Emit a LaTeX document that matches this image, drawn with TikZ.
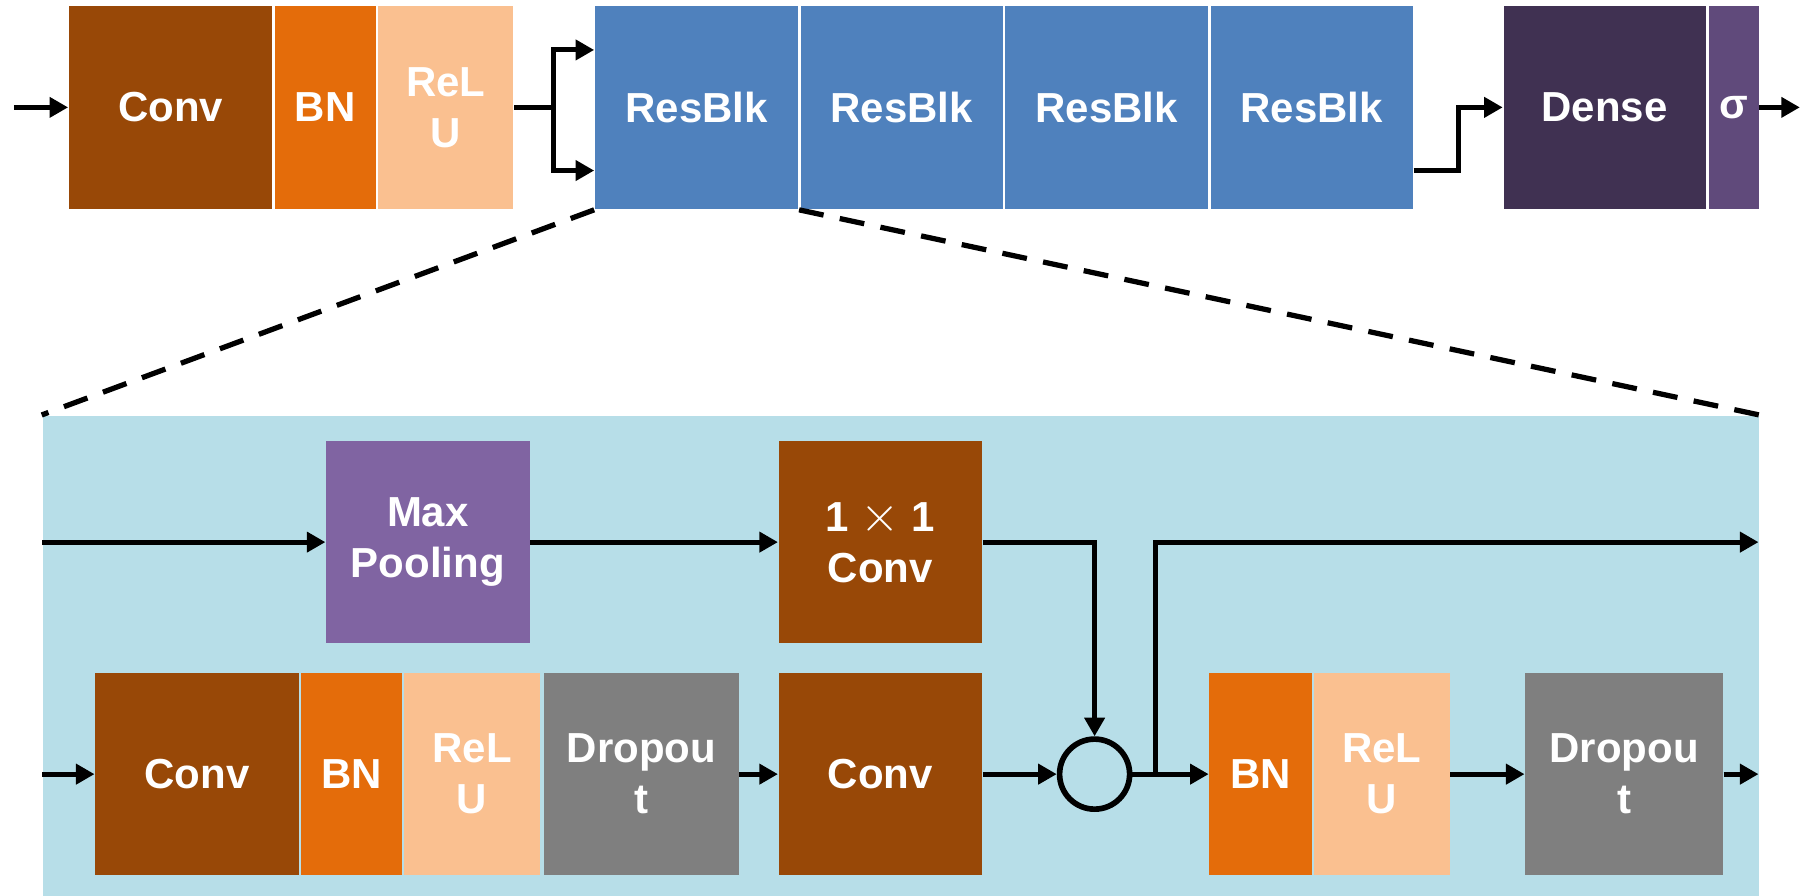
\documentclass[tikz,border=0pt]{standalone}
\usepackage{fontspec}
\setmainfont{Liberation Sans}
\usepackage{tikz}
\usetikzlibrary{arrows.meta,positioning,shapes}

\definecolor{convbrown}{HTML}{984807}
\definecolor{bnorange}{HTML}{E46C0A}
\definecolor{relupeach}{HTML}{FAC090}
\definecolor{resblue}{HTML}{4F81BD}
\definecolor{densepurple}{HTML}{403152}
\definecolor{sigpurple}{HTML}{604A7B}
\definecolor{poolpurple}{HTML}{8064A2}
\definecolor{dropgray}{HTML}{7F7F7F}
\definecolor{panelblue}{HTML}{B7DEE8}

\tikzset{
	blk/.style={rectangle,inner sep=0,minimum height=17.7mm,text=white,align=center,
		font=\bfseries\fontsize{10.4}{12.6}\selectfont},
	convblk/.style={blk,fill=convbrown},
	bnblk/.style={blk,fill=bnorange},
	relublk/.style={blk,fill=relupeach},
	resblk/.style={blk,fill=resblue},
	denseblk/.style={blk,fill=densepurple},
	sigblk/.style={blk,fill=sigpurple},
	poolblk/.style={blk,fill=poolpurple},
	dropblk/.style={blk,fill=dropgray},
	addnode/.style={circle,draw,line width=1.4pt,minimum size=6.1mm,inner sep=0},
	conn/.style={line width=1.25pt},
	arr/.style={-{Triangle[length=4.6pt,width=4.9pt]},line width=1.25pt},
	zoomline/.style={line width=1.3pt,dash pattern=on 6.2pt off 4.1pt}
}

\begin{document}
\begin{tikzpicture}[x=0.1mm,y=-0.1mm]
	\useasboundingbox (0,0) rectangle (1568,780);

	%%% main network
	\node[convblk,minimum width=17.7mm] (convA) at (148.5,93.5) {Conv};
	\node[bnblk,minimum width=8.8mm] (bnA) at (283,93.5) {BN};
	\node[relublk,minimum width=11.8mm] (reluA) at (388,93.5) {ReL\\U};
	\node[resblk,minimum width=17.7mm] (rb1) at (606.5,93.5) {ResBlk};
	\node[resblk,minimum width=17.6mm] (rb2) at (785,93.5) {ResBlk};
	\node[resblk,minimum width=17.7mm] (rb3) at (963.5,93.5) {ResBlk};
	\node[resblk,minimum width=17.6mm] (rb4) at (1142,93.5) {ResBlk};
	\node[denseblk,minimum width=17.6mm] (dense) at (1397,93.5) {Dense};
	\node[sigblk,minimum width=4.3mm] (sig) at (1509.5,93.5) {σ};

	\coordinate (inA) at (12,93.5);
	\coordinate (split) at (482,93.5);
	\coordinate (outA) at (1567,93.5);

	\draw[arr] (inA) -- (convA);
	\draw[conn] (reluA) -- (split);
	\draw[arr] (split) |- ([yshift=5mm]rb1.west);
	\draw[arr] (split) |- ([yshift=-5.5mm]rb1.west);
	\draw[arr] ([yshift=-5.5mm]rb4.east) -- ++(39,0) |- (dense);
	\draw[arr] (sig) -- (outA);

	%%% inside one ResBlk
	\node[rectangle,fill=panelblue,inner sep=0,minimum width=149.4mm,minimum height=41.8mm] (panel) at (784,571) {};
	\draw[zoomline] (rb1.south west) -- (panel.north west);
	\draw[zoomline] (rb1.south east) -- (panel.north east);

	\node[poolblk,minimum width=17.7mm,minimum height=17.6mm] (pool) at (372.5,472) {Max\\Pooling};
	\node[convblk,minimum width=17.7mm,minimum height=17.6mm] (conv1) at (766.5,472) {1 \scalebox{1.25}{$\times$} 1\\Conv};

	\node[convblk,minimum width=17.7mm,minimum height=17.6mm] (convB) at (171.5,674) {Conv};
	\node[bnblk,minimum width=8.8mm,minimum height=17.6mm] (bnB) at (306,674) {BN};
	\node[relublk,minimum width=11.8mm,minimum height=17.6mm] (reluB) at (411,674) {ReL\\U};
	\node[dropblk,minimum width=16.9mm,minimum height=17.6mm] (dropA) at (558.5,674) {Dropou\\t};
	\node[convblk,minimum width=17.7mm,minimum height=17.6mm] (convC) at (766.5,674) {Conv};
	\node[addnode] (add) at (953,674) {};
	\node[bnblk,minimum width=8.9mm,minimum height=17.6mm] (bnC) at (1097.5,674) {BN};
	\node[relublk,minimum width=11.8mm,minimum height=17.6mm] (reluC) at (1203,674) {ReL\\U};
	\node[dropblk,minimum width=17.2mm,minimum height=17.6mm] (dropB) at (1414,674) {Dropou\\t};

	\coordinate (inB) at (37,472);
	\coordinate (inC) at (37,674);
	\coordinate (tap) at (1006,674);
	\coordinate (outB) at (1531,472);
	\coordinate (outC) at (1531,674);

	\draw[arr] (inB) -- (pool);
	\draw[arr] (pool) -- (conv1);
	\draw[arr] (conv1.east) -| (add.north);
	\draw[arr] (inC) -- (convB);
	\draw[arr] (dropA) -- (convC);
	\draw[arr] (convC) -- (add);
	\draw[arr] (add) -- (bnC);
	\draw[arr] (tap) |- (outB);
	\draw[arr] (reluC) -- (dropB);
	\draw[arr] (dropB) -- (outC);

\end{tikzpicture}
\end{document}
